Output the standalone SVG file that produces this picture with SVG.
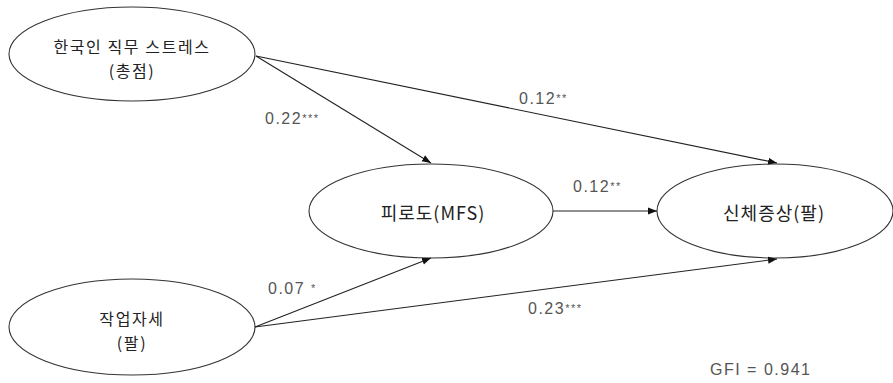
<svg xmlns="http://www.w3.org/2000/svg" width="893" height="383" viewBox="0 0 893 383">
<defs>
<marker id="arr" markerWidth="10" markerHeight="8" refX="9" refY="4" orient="auto" markerUnits="userSpaceOnUse">
<path d="M0,0.5 L9,4 L0,7.5 Z" fill="#111"/>
</marker>
<style>
.node ellipse{fill:#fff;stroke:#333;stroke-width:1.1}
.kt{font-family:"Noto Sans CJK KR","Liberation Sans",sans-serif;font-size:18px;fill:#222;text-anchor:middle;letter-spacing:1px}
.k2{font-size:16px;letter-spacing:1.6px}
.num{font-family:"Liberation Sans","Noto Sans",sans-serif;font-size:16px;fill:#555;letter-spacing:1.5px}
.ast{font-size:11px}
.edges line{stroke:#222;stroke-width:1.1;marker-end:url(#arr)}
</style>
</defs>
<rect width="893" height="383" fill="#fff"/>
<g id="stress" class="node">
<ellipse cx="132" cy="54" rx="123" ry="47"/>
<text class="kt k2" x="132" y="53">한국인 직무 스트레스</text>
<text class="kt k2" x="132" y="77">(총점)</text>
</g>
<g id="fatigue" class="node">
<ellipse cx="431" cy="211" rx="122" ry="47"/>
<text class="kt" x="433" y="220">피로도(MFS)</text>
</g>
<g id="symptom" class="node">
<ellipse cx="775" cy="211" rx="118" ry="47"/>
<text class="kt" x="774" y="220">신체증상(팔)</text>
</g>
<g id="posture" class="node">
<ellipse cx="132" cy="327" rx="123" ry="48"/>
<text class="kt k2" x="132" y="325">작업자세</text>
<text class="kt k2" x="132" y="349">(팔)</text>
</g>
<g id="edges" class="edges">
<line x1="256" y1="56" x2="431" y2="163"/>
<line x1="256" y1="56" x2="777" y2="163"/>
<line x1="553" y1="211" x2="657" y2="211"/>
<line x1="255" y1="327" x2="431" y2="258"/>
<line x1="255" y1="327" x2="777" y2="259"/>
</g>
<g id="labels">
<text class="num" x="265" y="124">0.22<tspan class="ast" dy="-2">***</tspan></text>
<text class="num" x="519" y="104">0.12<tspan class="ast" dy="-2">**</tspan></text>
<text class="num" x="573" y="192">0.12<tspan class="ast" dy="-2">**</tspan></text>
<text class="num" x="268" y="294">0.07 <tspan class="ast" dy="-2">*</tspan></text>
<text class="num" x="528" y="314">0.23<tspan class="ast" dy="-2">***</tspan></text>
<text class="num" x="710" y="375">GFI = 0.941</text>
</g>
</svg>
